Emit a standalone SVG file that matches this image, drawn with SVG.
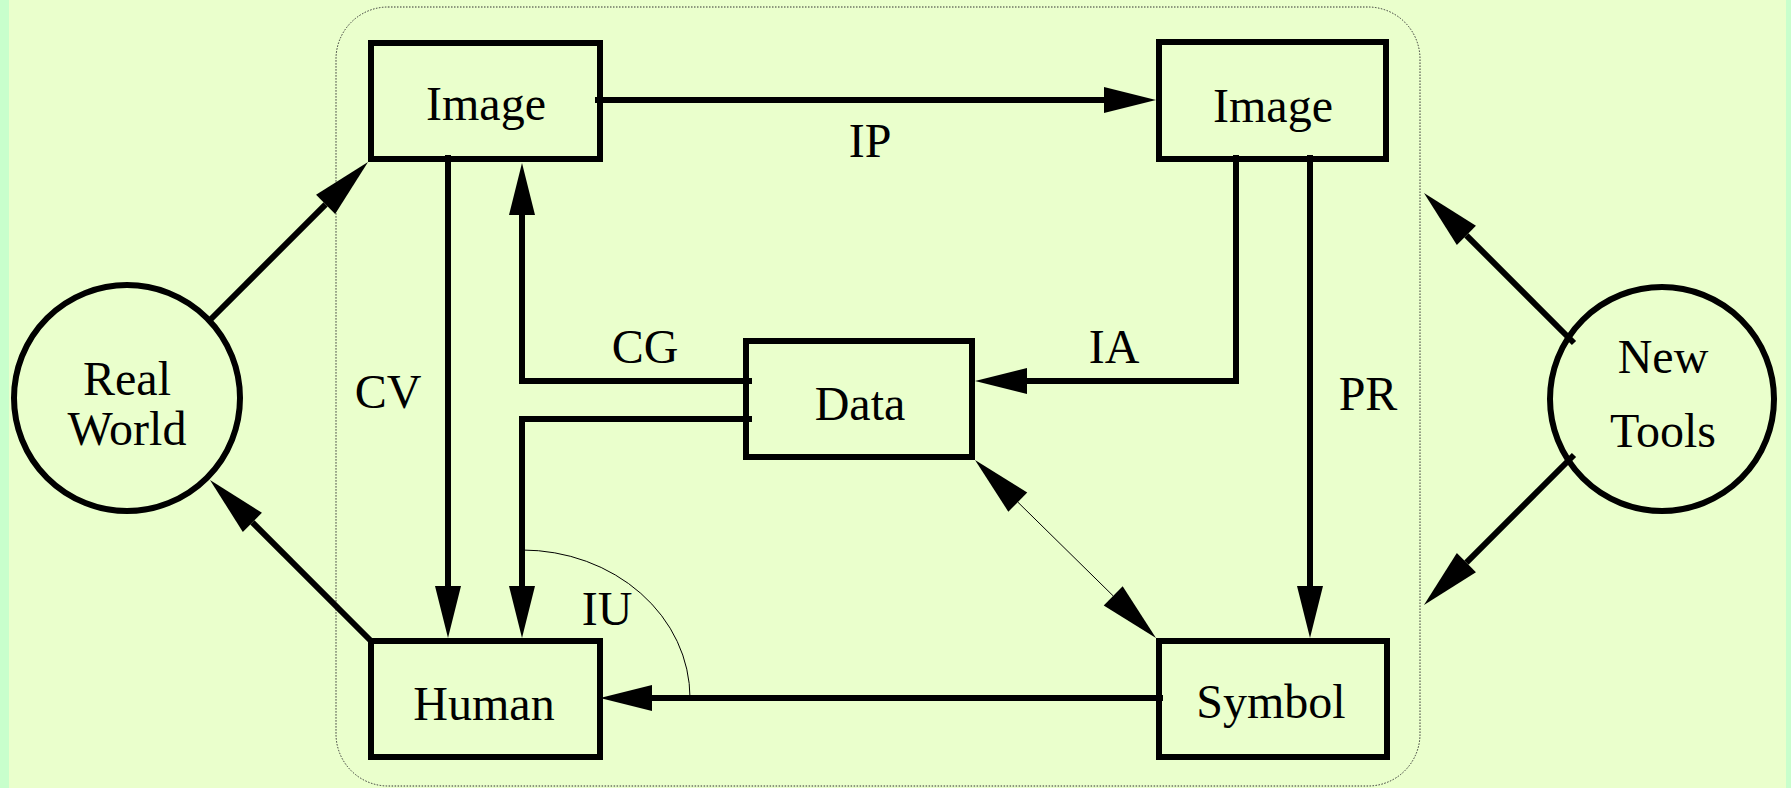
<svg xmlns="http://www.w3.org/2000/svg" width="1791" height="788" viewBox="0 0 1791 788">
<style>
.bx{fill:none;stroke:#000;stroke-width:6}
.ci{fill:none;stroke:#000;stroke-width:6}
.ln{fill:none;stroke:#000;stroke-width:6}
.th{fill:none;stroke:#000;stroke-width:1}
text{font-family:"Liberation Serif","Times New Roman",serif;font-size:48px;fill:#000;text-anchor:middle}
</style>
<defs>
<marker id="ah" markerUnits="userSpaceOnUse" markerWidth="54" markerHeight="28" refX="0" refY="13" orient="auto-start-reverse" overflow="visible">
<path d="M0,0 L52,13 L0,26 Z" fill="#000"/>
</marker>
<marker id="ahd" markerUnits="userSpaceOnUse" markerWidth="62" markerHeight="28" refX="0" refY="13.5" orient="auto-start-reverse" overflow="visible">
<path d="M0,0 L60,13.5 L0,27 Z" fill="#000"/>
</marker>
</defs>
<rect x="0" y="0" width="1791" height="788" fill="#eaffcc"/>
<rect x="0" y="0" width="9" height="788" fill="#c8ffcc"/>
<rect x="1786" y="0" width="5" height="788" fill="#c8ffcc"/>
<rect id="frame" x="336" y="7" width="1084" height="779" rx="52" ry="52" fill="none" stroke="#333" stroke-width="1" stroke-dasharray="1.5,1.5"/>

<g id="connectors">
<path class="ln" d="M595,100 H1104" marker-end="url(#ah)"/>
<path class="ln" d="M210,320 L325.6,204.4" marker-end="url(#ahd)"/>
<path class="ln" d="M370,640 L252.4,522.4" marker-end="url(#ahd)"/>
<path class="ln" d="M448,155 V586" marker-end="url(#ah)"/>
<path class="ln" d="M752,381 H522 V215" marker-end="url(#ah)"/>
<path class="ln" d="M752,419 H522 V586" marker-end="url(#ah)"/>
<path class="ln" d="M1236,155 V381 H1027" marker-end="url(#ah)"/>
<path class="ln" d="M1310,155 V586" marker-end="url(#ah)"/>
<path class="ln" d="M1163,698 H652" marker-end="url(#ah)"/>
<path class="th" d="M1017.8,502.1 L1113.2,595.9" marker-start="url(#ahd)" marker-end="url(#ahd)"/>
<path class="ln" d="M1574,343 L1466.4,235.4" marker-end="url(#ahd)"/>
<path class="ln" d="M1574,455 L1466.4,562.6" marker-end="url(#ahd)"/>
<path class="th" d="M522,550 A168,148 0 0 1 690,698"/>
<text x="870" y="157">IP</text>
<text x="645" y="363">CG</text>
<text x="1114" y="363">IA</text>
<text x="388" y="408">CV</text>
<text x="1368" y="410">PR</text>
<text x="607" y="625">IU</text>
</g>

<g id="realworld">
<circle class="ci" cx="127" cy="398" r="113"/>
<text x="127" y="395">Real</text>
<text x="127" y="445">World</text>
</g>
<g id="newtools">
<circle class="ci" cx="1662" cy="399" r="112"/>
<text x="1663" y="373">New</text>
<text x="1663" y="447">Tools</text>
</g>
<g id="image1">
<rect class="bx" x="371" y="43" width="229" height="116"/>
<text x="486" y="120">Image</text>
</g>
<g id="image2">
<rect class="bx" x="1159" y="42" width="227" height="117"/>
<text x="1273" y="122">Image</text>
</g>
<g id="data">
<rect class="bx" x="746" y="341" width="226" height="116"/>
<text x="860" y="420">Data</text>
</g>
<g id="human">
<rect class="bx" x="371" y="641" width="229" height="116"/>
<text x="484" y="720">Human</text>
</g>
<g id="symbol">
<rect class="bx" x="1159" y="641" width="228" height="116"/>
<text x="1271" y="718">Symbol</text>
</g>
</svg>
